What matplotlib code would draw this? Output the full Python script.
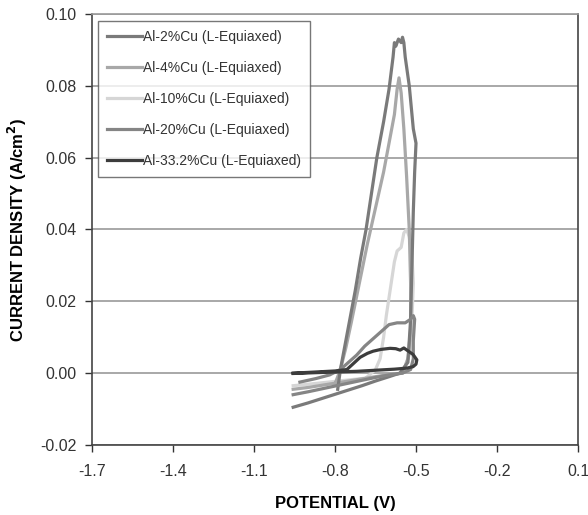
import numpy as np
import matplotlib
matplotlib.use("Agg")
from matplotlib import pyplot as plt

# potential (V) / current density (A/cm2)
al2_v = [-0.955, -0.90, -0.85, -0.80, -0.75, -0.70, -0.65, -0.60, -0.56, -0.53, -0.52,
         -0.515, -0.51, -0.505, -0.50, -0.51, -0.515, -0.525, -0.54, -0.545, -0.55,
         -0.555, -0.565, -0.575, -0.58, -0.585, -0.60, -0.62, -0.645, -0.665, -0.685,
         -0.705, -0.725, -0.745, -0.765, -0.78, -0.79]
al2_i = [-0.0095, -0.0083, -0.0071, -0.0059, -0.0047, -0.0035, -0.0022, -0.0010, 0.0000,
         0.0030, 0.0150, 0.0300, 0.0450, 0.0560, 0.0640, 0.0680, 0.0720, 0.0800, 0.0880,
         0.0920, 0.0935, 0.0920, 0.0930, 0.0910, 0.0920, 0.0880, 0.0790, 0.0700, 0.0600,
         0.0500, 0.0400, 0.0320, 0.0230, 0.0150, 0.0070, 0.0010, -0.0045]

al4_v = [-0.955, -0.90, -0.85, -0.80, -0.75, -0.70, -0.65, -0.60, -0.55, -0.53, -0.52,
         -0.52, -0.525, -0.535, -0.545, -0.555, -0.563, -0.57, -0.58, -0.59, -0.60,
         -0.62, -0.65, -0.68, -0.71, -0.74, -0.76, -0.78, -0.80]
al4_i = [-0.0045, -0.0040, -0.0034, -0.0028, -0.0022, -0.0016, -0.0010, -0.0004, 0.0000,
         0.0040, 0.0120, 0.0250, 0.0400, 0.0550, 0.0680, 0.0780, 0.0822, 0.0790, 0.0720,
         0.0680, 0.0640, 0.0560, 0.0460, 0.0360, 0.0250, 0.0140, 0.0070, 0.0010, -0.0030]

al10_v = [-0.955, -0.90, -0.85, -0.80, -0.75, -0.70, -0.65, -0.60, -0.55, -0.52, -0.515,
          -0.51, -0.515, -0.525, -0.535, -0.545, -0.555, -0.57, -0.58, -0.59, -0.60,
          -0.61, -0.62, -0.633, -0.65, -0.68]
al10_i = [-0.0035, -0.0031, -0.0027, -0.0023, -0.0019, -0.0015, -0.0011, -0.0006, 0.0000,
          0.0060, 0.0150, 0.0250, 0.0330, 0.0380, 0.0400, 0.0390, 0.0350, 0.0340, 0.0310,
          0.0260, 0.0210, 0.0160, 0.0100, 0.0040, 0.0010, -0.0010]

al20_v = [-0.955, -0.90, -0.85, -0.80, -0.75, -0.70, -0.65, -0.60, -0.55, -0.52, -0.51,
          -0.51, -0.505, -0.51, -0.52, -0.54, -0.57, -0.60, -0.63, -0.66, -0.69, -0.72,
          -0.75, -0.78, -0.82, -0.87, -0.93]
al20_i = [-0.0060, -0.0052, -0.0044, -0.0036, -0.0028, -0.0020, -0.0012, -0.0005, 0.0000,
          0.0010, 0.0040, 0.0090, 0.0150, 0.0160, 0.0150, 0.0140, 0.0140, 0.0135, 0.0115,
          0.0095, 0.0075, 0.0050, 0.0030, 0.0010, -0.0005, -0.0015, -0.0025]

al33_v = [-0.955, -0.90, -0.85, -0.80, -0.756, -0.73, -0.707, -0.68, -0.659, -0.63, -0.596,
          -0.575, -0.559, -0.545, -0.53, -0.511, -0.497, -0.50, -0.511, -0.533, -0.58,
          -0.65, -0.72, -0.80, -0.88, -0.955]
al33_i = [0.0000, 0.0002, 0.0004, 0.0006, 0.0010, 0.0028, 0.0044, 0.0055, 0.0061, 0.0066,
          0.0069, 0.0068, 0.0064, 0.0070, 0.0062, 0.0052, 0.0037, 0.0025, 0.0018, 0.0014,
          0.0011, 0.0008, 0.0005, 0.0003, 0.0001, -0.0001]

labels = ["Al-2%Cu (L-Equiaxed)", "Al-4%Cu (L-Equiaxed)", "Al-10%Cu (L-Equiaxed)",
          "Al-20%Cu (L-Equiaxed)", "Al-33.2%Cu (L-Equiaxed)"]
colors = ["#7a7a7a", "#a8a8a8", "#d6d6d6", "#858585", "#3c3c3c"]

x_ticks = [-1.7, -1.4, -1.1, -0.8, -0.5, -0.2, 0.1]
y_ticks = [-0.02, 0.00, 0.02, 0.04, 0.06, 0.08, 0.10]


def main():
    plt.rcParams['font.family'] = ['Liberation Sans', 'DejaVu Sans']
    fig = plt.figure(figsize=(5.88, 5.15), dpi=100)
    ax = fig.add_axes([0.1565, 0.136, 0.8265, 0.837])

    series = [(al2_v, al2_i), (al4_v, al4_i), (al10_v, al10_i),
              (al20_v, al20_i), (al33_v, al33_i)]
    # draw light ones first so the dark loop sits on top
    order = [2, 1, 0, 3, 4]
    handles = [None] * 5
    for k in order:
        v, i = series[k]
        line, = ax.plot(v, i, color=colors[k], lw=2.3, solid_joinstyle='round',
                        label=labels[k])
        handles[k] = line

    ax.set_xlim(-1.7, 0.1)
    ax.set_ylim(-0.02, 0.10)
    ax.set_xticks(x_ticks)
    ax.set_xticklabels(["%.1f" % t for t in x_ticks])
    ax.set_yticks(y_ticks)
    ax.set_yticklabels(["%.2f" % t for t in y_ticks])
    ax.tick_params(direction='out', length=5, width=1, colors='#333333',
                   labelsize=11.5, labelcolor='#333333', pad=6)
    ax.tick_params(axis='x', pad=9)
    ax.yaxis.grid(True, color='#9a9a9a', lw=1.2)
    ax.set_axisbelow(True)
    for s in ['left', 'bottom', 'right']:
        ax.spines[s].set_color('#444444')
        ax.spines[s].set_linewidth(1.2)
    ax.spines['top'].set_color('#9a9a9a')
    ax.spines['top'].set_linewidth(1.2)

    ax.set_xlabel("POTENTIAL (V)", fontsize=12, fontweight='bold', labelpad=12)
    ax.set_ylabel("CURRENT DENSITY (A/cm$^\\mathbf{2}$)", fontsize=12,
                  fontweight='bold', labelpad=8)

    leg = ax.legend(handles=handles, loc='upper left', bbox_to_anchor=(0.0123, 0.984),
                    fontsize=10, frameon=True, fancybox=False, handlelength=2.5,
                    handletextpad=0.07, labelspacing=1.23, borderpad=0.65,
                    borderaxespad=0)
    for t in leg.get_texts():
        t.set_color('#333333')
    leg.get_frame().set_edgecolor('#555555')
    leg.get_frame().set_linewidth(1.0)

    plt.savefig("out.png", dpi=100)


if __name__ == "__main__":
    main()
